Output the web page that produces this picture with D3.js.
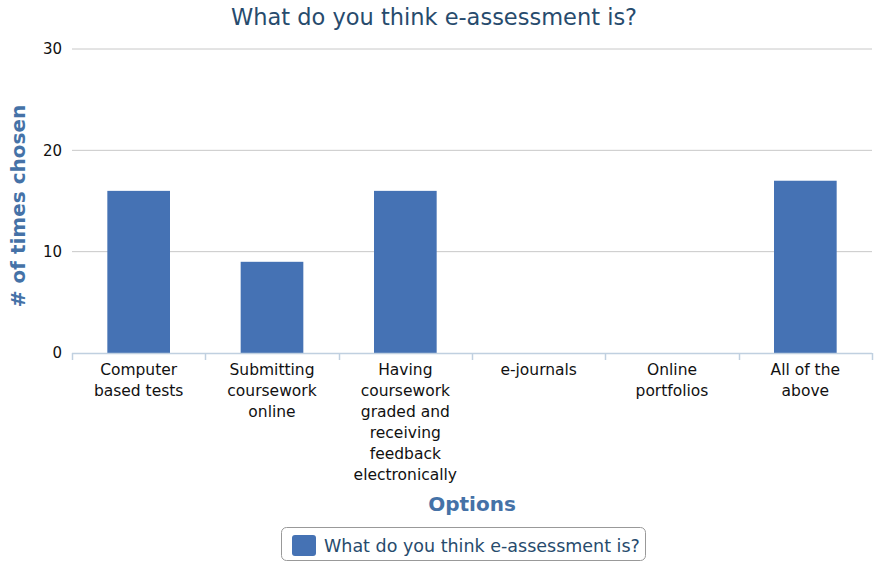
<!DOCTYPE html>
<html>
<head>
<meta charset="utf-8">
<script src="https://cdn.jsdelivr.net/npm/d3@7"></script>
<style>
  html, body { margin: 0; padding: 0; background: #fff; }
  svg { display: block; font-family: "DejaVu Sans", sans-serif; }
</style>
</head>
<body>
<svg id="chart" width="874" height="564"></svg>
<script>
// Survey responses: how often each option was chosen
const categories = [
  "Computer based tests",
  "Submitting coursework online",
  "Having coursework graded and receiving feedback electronically",
  "e-journals",
  "Online portfolios",
  "All of the above"
];
const categoryLines = [
  ["Computer", "based tests"],
  ["Submitting", "coursework", "online"],
  ["Having", "coursework", "graded and", "receiving", "feedback", "electronically"],
  ["e-journals"],
  ["Online", "portfolios"],
  ["All of the", "above"]
];
const values = [16, 9, 16, 0, 0, 17];
const yTicks = [0, 10, 20, 30];
const seriesName = "What do you think e-assessment is?";

const svg = d3.select("#chart");
const margin = { left: 72, right: 2, top: 49, bottom: 211 };
const W = 874, H = 564;
const innerW = W - margin.left - margin.right;
const innerH = H - margin.top - margin.bottom;

const x = d3.scaleBand().domain(categories).range([margin.left, margin.left + innerW])
  .paddingInner(0.53).paddingOuter(0.265);
const xTicks = d3.scaleBand().domain(categories).range([margin.left, margin.left + innerW]);
const y = d3.scaleLinear().domain([0, 30]).range([margin.top + innerH, margin.top]);

// Title
svg.append("text")
  .attr("x", 434).attr("y", 25)
  .attr("text-anchor", "middle")
  .attr("fill", "#274b6d")
  .style("font-size", "22.5px")
  .text(seriesName);

// Grid lines
svg.append("g").selectAll("line")
  .data(yTicks.filter(d => d > 0))
  .join("line")
  .attr("x1", margin.left).attr("x2", margin.left + innerW)
  .attr("y1", d => y(d)).attr("y2", d => y(d))
  .attr("stroke", "#c8c8c8").attr("stroke-width", 1);

// Y axis labels
const yAxis = d3.axisLeft(y).tickValues(yTicks).tickSize(0).tickPadding(10);
const gy = svg.append("g").attr("transform", `translate(${margin.left},0)`).call(yAxis);
gy.select(".domain").remove();
gy.selectAll("text")
  .attr("fill", "#111")
  .style("font-size", "15px")
  .style("font-family", "DejaVu Sans, sans-serif");

// Y axis title
svg.append("text")
  .attr("transform", `translate(25,${margin.top + innerH / 2 + 5}) rotate(-90)`)
  .attr("text-anchor", "middle")
  .attr("fill", "#4572a7")
  .style("font-size", "20px")
  .style("font-weight", "bold")
  .text("# of times chosen");

// Bars
svg.append("g").selectAll("rect")
  .data(values)
  .join("rect")
  .attr("x", (d, i) => x(categories[i]))
  .attr("width", x.bandwidth())
  .attr("y", d => y(d))
  .attr("height", d => y(0) - y(d))
  .attr("fill", "#4572b4");

// X axis line and ticks
const baseY = y(0);
svg.append("line")
  .attr("x1", margin.left).attr("x2", margin.left + innerW)
  .attr("y1", baseY + 0.5).attr("y2", baseY + 0.5)
  .attr("stroke", "#c0d0e0").attr("stroke-width", 1.5);
const tickXs = categories.map(c => xTicks(c)).concat([margin.left + innerW]);
svg.append("g").selectAll("line")
  .data(tickXs)
  .join("line")
  .attr("x1", d => Math.round(d) + 0.5).attr("x2", d => Math.round(d) + 0.5)
  .attr("y1", baseY).attr("y2", baseY + 7)
  .attr("stroke", "#c0d0e0").attr("stroke-width", 1.5);

// Category labels (wrapped)
const labels = svg.append("g").selectAll("text")
  .data(categories)
  .join("text")
  .attr("text-anchor", "middle")
  .attr("fill", "#111")
  .style("font-size", "15.5px");
labels.each(function(c, i) {
  const t = d3.select(this);
  const cx = xTicks(c) + xTicks.bandwidth() / 2;
  categoryLines[i].forEach((line, k) => {
    t.append("tspan").attr("x", cx).attr("y", 375 + k * 21).text(line);
  });
});

// X axis title
svg.append("text")
  .attr("x", margin.left + innerW / 2).attr("y", 511)
  .attr("text-anchor", "middle")
  .attr("fill", "#4572a7")
  .style("font-size", "20px")
  .style("font-weight", "bold")
  .text("Options");

// Legend
const lg = svg.append("g");
lg.append("rect")
  .attr("x", 281.5).attr("y", 527.5).attr("width", 364).attr("height", 33)
  .attr("rx", 5).attr("ry", 5)
  .attr("fill", "#fff").attr("stroke", "#999").attr("stroke-width", 1);
lg.append("rect")
  .attr("x", 292).attr("y", 535).attr("width", 24).attr("height", 21)
  .attr("rx", 3).attr("ry", 3)
  .attr("fill", "#4572b4");
lg.append("text")
  .attr("x", 324).attr("y", 552)
  .attr("fill", "#274b6d")
  .style("font-size", "17.5px")
  .text(seriesName);
</script>
</body>
</html>
